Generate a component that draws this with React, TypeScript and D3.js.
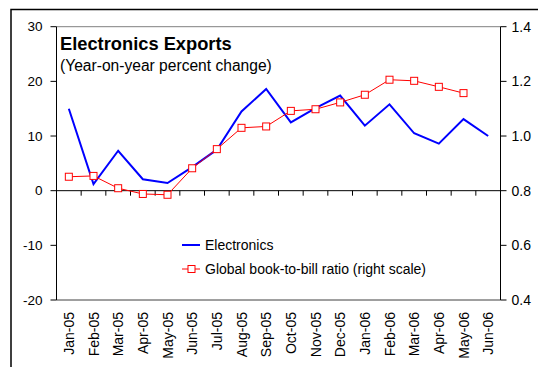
import React from "react";
import * as d3 from "d3";

const months = ["Jan-05","Feb-05","Mar-05","Apr-05","May-05","Jun-05","Jul-05","Aug-05","Sep-05","Oct-05","Nov-05","Dec-05","Jan-06","Feb-06","Mar-06","Apr-06","May-06","Jun-06"];
const electronics = [15.0, 1.2, 7.3, 2.1, 1.4, 4.3, 7.5, 14.5, 18.6, 12.5, 15.1, 17.4, 11.9, 15.8, 10.5, 8.6, 13.1, 10.0];
const bookToBill: (number | null)[] = [0.851, 0.854, 0.809, 0.788, 0.785, 0.882, 0.952, 1.030, 1.035, 1.092, 1.098, 1.123, 1.151, 1.206, 1.202, 1.180, 1.157, null];
const leftTicks = [-20, -10, 0, 10, 20, 30];
const rightTicks = [0.4, 0.6, 0.8, 1.0, 1.2, 1.4];

const W = 538, H = 367;
const x0 = 56.5, x1 = 500.5, yTop = 26.7, yBot = 300;

export default function App() {
  const xBand = d3.scaleBand<string>().domain(months).range([x0, x1]).paddingInner(0).paddingOuter(0);
  const yL = d3.scaleLinear().domain([-20, 30]).range([yBot, yTop]);
  const yR = d3.scaleLinear().domain([0.4, 1.4]).range([yBot, yTop]);
  const cx = (m: string) => (xBand(m) as number) + xBand.bandwidth() / 2;
  const lineE = d3.line<number>().x((_, i) => cx(months[i])).y((d) => yL(d));
  const lineR = d3.line<number | null>().defined((d) => d != null).x((_, i) => cx(months[i])).y((d) => yR(d as number));
  const font = "Arial, 'Liberation Sans', sans-serif";
  const y0 = yL(0);
  return (
    <svg width={W} height={H} style={{ position: "absolute", left: 0, top: 0, background: "#fff" }} fontFamily={font}>
      <rect x={11} y={9.5} width={600} height={500} fill="none" stroke="#000" strokeWidth={1.5} />
      <line x1={x0} x2={x1} y1={yTop} y2={yTop} stroke="#808080" strokeWidth={1} />
      <line x1={x0} x2={x1} y1={yBot} y2={yBot} stroke="#404040" strokeWidth={1} />
      <line x1={x0} x2={x0} y1={yTop} y2={yBot} stroke="#000" strokeWidth={1} />
      {leftTicks.map((t) => (
        <g key={"l" + t}>
          <line x1={x0 - 6} x2={x0} y1={yL(t)} y2={yL(t)} stroke="#000" />
          <text x={x0 - 14} y={yL(t)} dy="0.35em" textAnchor="end" fontSize={13.5}>{t}</text>
        </g>
      ))}
      <line x1={x1} x2={x1} y1={yTop} y2={yBot} stroke="#000" strokeWidth={1} />
      {rightTicks.map((t) => (
        <g key={"r" + t}>
          <line x1={x1} x2={x1 + 6} y1={yR(t)} y2={yR(t)} stroke="#000" />
          <text x={x1 + 11} y={yR(t)} dy="0.35em" textAnchor="start" fontSize={14}>{t.toFixed(1)}</text>
        </g>
      ))}
      <line x1={x0} x2={x1} y1={y0} y2={y0} stroke="#000" strokeWidth={1} />
      {months.map((m) => (
        <line key={"t" + m} x1={xBand(m) as number} x2={xBand(m) as number} y1={y0} y2={y0 + 5} stroke="#000" />
      ))}
      {months.map((m) => (
        <text key={"x" + m} transform={`translate(${cx(m)},${312}) rotate(-90)`} dy="0.36em" textAnchor="end" fontSize={14}>{m}</text>
      ))}
      <path d={lineE(electronics) || ""} fill="none" stroke="#0000ff" strokeWidth={2} />
      <path d={lineR(bookToBill) || ""} fill="none" stroke="#ff0000" strokeWidth={1} />
      {bookToBill.map((v, i) => v == null ? null : (
        <rect key={"m" + i} x={cx(months[i]) - 3.5} y={yR(v) - 3.5} width={7} height={7} fill="#fff" stroke="#ff0000" strokeWidth={1} />
      ))}
      <text x={60} y={50} fontSize={18.3} fontWeight="bold">Electronics Exports</text>
      <text x={60} y={71} fontSize={15.6}>(Year-on-year percent change)</text>
      <line x1={182} x2={200} y1={245} y2={245} stroke="#0000ff" strokeWidth={2} />
      <text x={205} y={245} dy="0.35em" fontSize={14}>Electronics</text>
      <line x1={182} x2={200} y1={269} y2={269} stroke="#ff0000" strokeWidth={1} />
      <rect x={188} y={265.5} width={7} height={7} fill="#fff" stroke="#ff0000" />
      <text x={205} y={269} dy="0.35em" fontSize={14}>Global book-to-bill ratio (right scale)</text>
    </svg>
  );
}
